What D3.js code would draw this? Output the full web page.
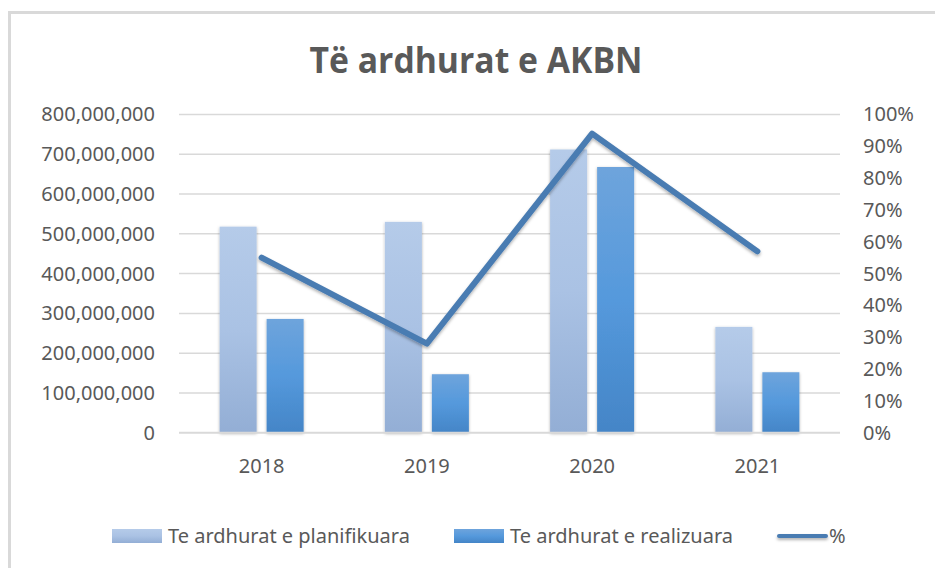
<!DOCTYPE html>
<html>
<head>
<meta charset="utf-8">
<script src="https://cdn.jsdelivr.net/npm/d3@7"></script>
<style>
  html, body { margin: 0; padding: 0; background: #fff; }
  svg { display: block; }
  text { font-family: "Noto Sans", "Open Sans", sans-serif; fill: #595959; }
</style>
</head>
<body>
<svg id="chart" width="935" height="568"></svg>
<script>
const categories = ["2018", "2019", "2020", "2021"];
const planned = [518000000, 530000000, 712000000, 266000000];
const realized = [286000000, 147000000, 668000000, 152000000];
const percent = [0.55, 0.28, 0.94, 0.57];
const leftTicks = [0, 100000000, 200000000, 300000000, 400000000, 500000000, 600000000, 700000000, 800000000];
const rightTicks = [0, 0.1, 0.2, 0.3, 0.4, 0.5, 0.6, 0.7, 0.8, 0.9, 1.0];
const seriesNames = ["Te ardhurat e planifikuara", "Te ardhurat e realizuara", "%"];
const title = "Të ardhurat e AKBN";

const svg = d3.select("#chart");
const W = 935, H = 568;
const plot = { left: 179, right: 840, top: 114.5, bottom: 432.7 };

const defs = svg.append("defs");
const g1 = defs.append("linearGradient").attr("id", "gPlan").attr("x1", 0).attr("y1", 0).attr("x2", 0).attr("y2", 1);
g1.append("stop").attr("offset", "0%").attr("stop-color", "#b5cbe9");
g1.append("stop").attr("offset", "50%").attr("stop-color", "#aac2e4");
g1.append("stop").attr("offset", "100%").attr("stop-color", "#93aed5");
const g2 = defs.append("linearGradient").attr("id", "gReal").attr("x1", 0).attr("y1", 0).attr("x2", 0).attr("y2", 1);
g2.append("stop").attr("offset", "0%").attr("stop-color", "#6ea4dc");
g2.append("stop").attr("offset", "50%").attr("stop-color", "#5599dc");
g2.append("stop").attr("offset", "100%").attr("stop-color", "#4485c7");
const sh = defs.append("filter").attr("id", "shadow").attr("x", "-20%").attr("y", "-20%").attr("width", "140%").attr("height", "140%");
sh.append("feDropShadow").attr("dx", 0).attr("dy", 1).attr("stdDeviation", 1.5).attr("flood-color", "#000").attr("flood-opacity", 0.3);
const shl = defs.append("filter").attr("id", "lshadow").attr("filterUnits", "userSpaceOnUse")
  .attr("x", 0).attr("y", 0).attr("width", W).attr("height", H);
shl.append("feDropShadow").attr("dx", 0).attr("dy", 2).attr("stdDeviation", 1.5).attr("flood-color", "#000").attr("flood-opacity", 0.3);

// chart border (left and top only visible)
svg.append("line").attr("x1", 9.5).attr("x2", 9.5).attr("y1", 12.5).attr("y2", H).attr("stroke", "#d9d9d9").attr("stroke-width", 3);
svg.append("line").attr("x1", 8).attr("x2", W).attr("y1", 12.5).attr("y2", 12.5).attr("stroke", "#d9d9d9").attr("stroke-width", 3);

// title
svg.append("text").attr("x", 476).attr("y", 73).attr("text-anchor", "middle")
  .style("font-family", "'Open Sans', sans-serif").style("font-weight", "bold").style("font-size", "35px")
  .attr("textLength", 333).attr("lengthAdjust", "spacingAndGlyphs")
  .text(title);

const x = d3.scaleBand().domain(categories).range([plot.left, plot.right]).paddingInner(0).paddingOuter(0);
const y = d3.scaleLinear().domain([0, 800000000]).range([plot.bottom, plot.top]);
const y2 = d3.scaleLinear().domain([0, 1]).range([plot.bottom, plot.top]);

// gridlines
svg.append("g").selectAll("line").data(leftTicks.filter(d => d > 0)).join("line")
  .attr("x1", plot.left).attr("x2", plot.right)
  .attr("y1", d => y(d)).attr("y2", d => y(d))
  .attr("stroke", "#d9d9d9").attr("stroke-width", 1.5);

// left axis labels
const fmt = d3.format(",");
const leftAxis = d3.axisLeft(y).tickValues(leftTicks).tickFormat(d => fmt(d)).tickSize(0).tickPadding(24);
const la = svg.append("g").attr("transform", `translate(${plot.left},0)`).call(leftAxis);
la.select(".domain").remove();
la.selectAll("text").style("font-size", "20px").attr("fill", "#595959").style("font-family", "'Noto Sans', sans-serif");

// right axis labels
const rightAxis = d3.axisRight(y2).tickValues(rightTicks).tickFormat(d3.format(".0%")).tickSize(0).tickPadding(23);
const ra = svg.append("g").attr("transform", `translate(${plot.right},0)`).call(rightAxis);
ra.select(".domain").remove();
ra.selectAll("text").style("font-size", "20px").attr("fill", "#595959").style("font-family", "'Noto Sans', sans-serif");

// bars
const barW = 37, gap = 10;
const bars = svg.append("g");
categories.forEach((c, i) => {
  const cx = x(c) + x.bandwidth() / 2;
  bars.append("rect").attr("x", cx - gap / 2 - barW).attr("width", barW)
    .attr("y", y(planned[i])).attr("height", y(0) - y(planned[i]))
    .attr("fill", "url(#gPlan)").attr("filter", "url(#shadow)");
  bars.append("rect").attr("x", cx + gap / 2).attr("width", barW)
    .attr("y", y(realized[i])).attr("height", y(0) - y(realized[i]))
    .attr("fill", "url(#gReal)").attr("filter", "url(#shadow)");
});

// baseline
svg.append("line").attr("x1", plot.left).attr("x2", plot.right).attr("y1", y(0)).attr("y2", y(0))
  .attr("stroke", "#d9d9d9").attr("stroke-width", 2);

// x axis labels
const xAxis = d3.axisBottom(x).tickSize(0).tickPadding(26);
const xa = svg.append("g").attr("transform", `translate(0,${y(0)})`).call(xAxis);
xa.select(".domain").remove();
xa.selectAll("text").style("font-size", "20px").attr("fill", "#595959").style("font-family", "'Noto Sans', sans-serif");

// line
const line = d3.line().x((d, i) => x(categories[i]) + x.bandwidth() / 2).y(d => y2(d));
svg.append("path").datum(percent).attr("d", line)
  .attr("fill", "none").attr("stroke", "#4a7cb2").attr("stroke-width", 6)
  .attr("stroke-linejoin", "round").attr("stroke-linecap", "round").attr("filter", "url(#lshadow)");

// legend
const leg = svg.append("g");
const ly = 536;
leg.append("rect").attr("x", 112).attr("y", ly - 7).attr("width", 50).attr("height", 14).attr("fill", "url(#gPlan)");
leg.append("text").attr("x", 168).attr("y", ly).attr("dy", "0.35em").style("font-size", "20px").text(seriesNames[0]);
leg.append("rect").attr("x", 454).attr("y", ly - 7).attr("width", 50).attr("height", 14).attr("fill", "url(#gReal)");
leg.append("text").attr("x", 510).attr("y", ly).attr("dy", "0.35em").style("font-size", "20px").text(seriesNames[1]);
leg.append("line").attr("x1", 779).attr("x2", 826).attr("y1", ly).attr("y2", ly)
  .attr("stroke", "#4a7cb2").attr("stroke-width", 4).attr("stroke-linecap", "round").attr("filter", "url(#lshadow)");
leg.append("text").attr("x", 829).attr("y", ly).attr("dy", "0.35em").style("font-size", "20px").text(seriesNames[2]);
</script>
</body>
</html>
